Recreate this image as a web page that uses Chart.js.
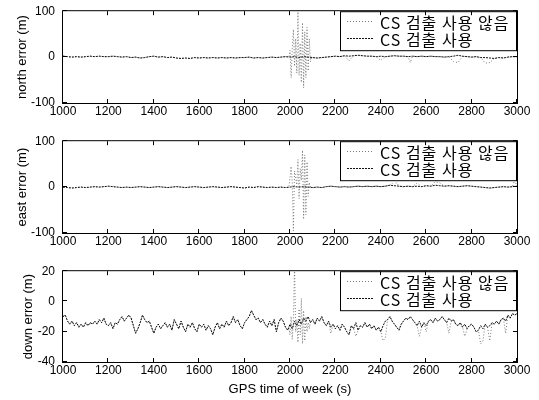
<!DOCTYPE html>
<html>
<head>
<meta charset="utf-8">
<script src="https://cdn.jsdelivr.net/npm/chart.js@4/dist/chart.umd.min.js"></script>
<style>
  html, body { margin: 0; padding: 0; background: #fff; width: 539px; height: 400px; overflow: hidden; }
  canvas { position: absolute; left: 0; }
</style>
</head>
<body>
<canvas id="cNorth" width="539" height="130" style="top:-4px"></canvas>
<canvas id="cEast" width="539" height="130" style="top:126px"></canvas>
<canvas id="cDown" width="539" height="144" style="top:256px"></canvas>
<script>
// ---- time axis ----
const T_START = 1000;
const T_END = 3000;
const X_TICK_STEP = 200;
const NE_STEP = 20;   // north / east sampling interval (s)
const D_STEP = 10;    // down sampling interval (s)

// ---- position error with cycle-slip detection (m) ----
const northUsed = [
  2, 1, 0, 1, 0, 1, 2, 1, 2, 1,
  1, 2, 1, 0, 1, -1, 0, -2, -1, 1,
  2, 0, 1, -1, 0, -2, -3, -2, -3, -1,
  -2, -1, -2, -1, -2, -1, -2, -1, -2, -1,
  -1, 0, -2, -1, -2, -1, 0, -1, 0, 1,
  0, 1, -1, 1, 0, -1, -2, -1, 0, 1,
  2, 1, 3, 2, 3, 4, 3, 2, 2, 1,
  2, 1, 2, 3, 2, 2, 1, 2, 1, 2,
  1, 2, 1, 1, 0, 1, 2, 4, 2, 1,
  0, 1, -1, -1, -2, -3, -1, -2, 0, 1,
  1
];
const eastUsed = [
  0, -1, -2, -1, 0, -1, 0, 1, 0, 1,
  2, 1, 0, -1, 0, -1, 0, 1, 0, -1,
  0, 1, 0, -1, 0, 1, 0, -1, 0, 1,
  0, -1, 0, 1, 0, -1, 0, 1, 0, -1,
  -2, 0, -1, 1, 0, -1, 0, -1, 0, -1,
  0, 1, 0, 1, 0, -1, 0, -1, 1, 2,
  1, 0, 1, 0, 1, 2, 1, 2, 1, 2,
  1, 2, 4, 3, 2, 1, 2, 1, 2, 1,
  3, 2, 4, 3, 2, 3, 2, 1, 2, 3,
  2, 1, 0, -1, -2, -1, 0, 1, 0, 1,
  2
];
const downUsed = [
  -10, -9, -13, -15, -13, -16, -14, -17, -15, -17,
  -14, -16, -14, -15, -13, -15, -12, -14, -11, -15,
  -16, -14, -18, -14, -15, -12, -10, -13, -11, -9,
  -11, -16, -21, -18, -14, -9, -12, -14, -13, -17,
  -21, -17, -15, -18, -16, -14, -17, -15, -19, -12,
  -15, -18, -13, -17, -20, -15, -17, -14, -18, -20,
  -15, -17, -15, -19, -16, -18, -22, -17, -14, -18,
  -15, -17, -13, -16, -14, -10, -14, -12, -16, -18,
  -14, -12, -10, -6, -9, -12, -11, -14, -12, -15,
  -17, -13, -16, -12, -20, -14, -11, -13, -17, -19,
  -15, -18, -13, -16, -12, -15, -11, -13, -10, -14,
  -12, -15, -11, -13, -10, -14, -16, -13, -17, -15,
  -18, -16, -19, -15, -17, -20, -22, -16, -18, -14,
  -19, -16, -17, -14, -17, -15, -18, -16, -19, -17,
  -20, -16, -13, -12, -10, -13, -15, -17, -19, -15,
  -13, -11, -12, -10, -12, -14, -16, -13, -17, -14,
  -16, -13, -12, -14, -11, -13, -12, -10, -12, -14,
  -11, -13, -12, -15, -16, -14, -17, -15, -18, -16,
  -15, -17, -20, -19, -16, -18, -15, -17, -16, -14,
  -15, -13, -15, -12, -11, -13, -9, -11, -8, -9,
  -8
];

// ---- samples where the solution without detection differs: [time (s), error (m)] ----
const northNotUsedDiff = [
  [1995, 0], [2000, 15], [2005, -45], [2010, 20], [2015, 60], [2020, -20], [2025, 40],
  [2030, -35], [2035, 105], [2040, -40], [2045, 30], [2050, -55], [2055, 75], [2060, -67],
  [2065, 55], [2070, -45], [2075, 65], [2080, -30], [2085, 40], [2090, -10], [2095, 0],
  [2260, -8], [2400, -7], [2530, -12], [2720, -10], [2740, -12], [2860, -13], [2880, -12]
];
const eastNotUsedDiff = [
  [1995, 0], [2000, 20], [2005, 45], [2010, 10], [2015, -95], [2020, 35], [2025, 20],
  [2030, 5], [2035, 60], [2040, -25], [2045, 40], [2050, 15], [2055, 80], [2060, -70],
  [2065, 70], [2070, -60], [2075, 55], [2080, -20], [2085, 10], [2090, 0],
  [2450, 8], [2470, 10], [2560, 9], [2640, 12], [2660, 9], [2990, 15]
];
const downNotUsedDiff = [
  [1995, -17], [2000, -22], [2005, -10], [2010, -25], [2015, -12], [2020, 24], [2025, -20],
  [2030, -12], [2035, -27], [2040, -5], [2045, -22], [2050, 2], [2055, -28], [2060, -6],
  [2065, -26], [2070, -10], [2075, -20], [2080, -14], [2085, -18], [2090, -13],
  [2180, -21], [2290, -23], [2410, -26], [2420, -24], [2570, -23], [2600, -20],
  [2700, -21], [2770, -23], [2840, -28], [2850, -26], [2880, -26], [2950, -21]
];

// ---- text ----
const legendLabels = ['CS 검출 사용 않음', 'CS 검출 사용'];
const yTitles = ['north error (m)', 'east error (m)', 'down error (m)'];
const xTitle = 'GPS time of week (s)';
const yRanges = [[-100, 100, 100], [-100, 100, 100], [-40, 20, 20]];

// ---- helpers ----
const toPoints = (vals, step) => vals.map((v, i) => ({ x: T_START + i * step, y: v }));
function overlay(base, diffs) {
  const m = new Map(base.map(p => [p.x, p.y]));
  diffs.forEach(([t, v]) => m.set(t, v));
  return [...m.entries()].sort((a, b) => a[0] - b[0]).map(([x, y]) => ({ x, y }));
}

const TICK_FONT = { family: '"Liberation Sans", Arial, sans-serif', size: 12 };
const TITLE_FONT = { family: '"Liberation Sans", Arial, sans-serif', size: 13 };
const LEGEND_FONT = '16px "Noto Sans CJK KR", sans-serif';
const LEGEND_LEFT = 340;

// frame, inward tick marks and boxed legend
const axesBox = {
  id: 'axesBox',
  afterDatasetsDraw(chart) {
    const { ctx, chartArea: a, scales } = chart;
    ctx.save();
    // legend
    const bx = LEGEND_LEFT, by = a.top, bw = a.right - bx, bh = 40;
    ctx.fillStyle = '#fff';
    ctx.fillRect(bx, by, bw, bh);
    ctx.strokeStyle = '#000';
    ctx.lineWidth = 1;
    ctx.setLineDash([]);
    ctx.strokeRect(bx + 0.5, by + 0.5, bw - 1, bh - 1);
    chart.data.datasets.forEach((ds, i) => {
      const y = Math.round(by + 10 + i * 17) + 0.5;
      ctx.strokeStyle = ds.borderColor;
      ctx.setLineDash(ds.borderDash);
      ctx.beginPath();
      ctx.moveTo(bx + 7, y);
      ctx.lineTo(bx + 33, y);
      ctx.stroke();
      ctx.setLineDash([]);
      ctx.fillStyle = '#000';
      ctx.font = LEGEND_FONT;
      ctx.letterSpacing = '1px';
      ctx.textBaseline = 'middle';
      ctx.textAlign = 'left';
      ctx.fillText(ds.label, bx + 40, y + 1);
      ctx.letterSpacing = '0px';
    });
    // frame
    ctx.strokeStyle = '#000';
    ctx.lineWidth = 1;
    ctx.strokeRect(a.left - 0.5, a.top - 0.5, a.right - a.left + 1, a.bottom - a.top + 1);
    // inward ticks
    const L = 4;
    ctx.beginPath();
    scales.x.ticks.forEach(t => {
      const px = Math.round(scales.x.getPixelForValue(t.value)) - 0.5;
      ctx.moveTo(px, a.bottom); ctx.lineTo(px, a.bottom - L);
      ctx.moveTo(px, a.top); ctx.lineTo(px, a.top + L);
    });
    scales.y.ticks.forEach(t => {
      const py = Math.round(scales.y.getPixelForValue(t.value)) - 0.5;
      ctx.moveTo(a.left, py); ctx.lineTo(a.left + L, py);
      ctx.moveTo(a.right, py); ctx.lineTo(a.right - L, py);
    });
    ctx.stroke();
    ctx.restore();
  }
};

function makePanel(id, used, notUsed, idx, opts) {
  const [yMin, yMax, yStep] = yRanges[idx];
  new Chart(document.getElementById(id), {
    type: 'line',
    data: {
      datasets: [
        { label: legendLabels[0], data: notUsed, borderColor: '#7a7a7a', borderDash: [1, 2],
          borderWidth: 1, pointRadius: 0, order: 2, tension: 0 },
        { label: legendLabels[1], data: used, borderColor: '#111', borderDash: [2, 1],
          borderWidth: 1, pointRadius: 0, order: 1, tension: 0 }
      ]
    },
    options: {
      responsive: false,
      animation: false,
      devicePixelRatio: 1,
      layout: { padding: { left: 0, right: 22, top: 10, bottom: 0 } },
      plugins: { legend: { display: false }, tooltip: { enabled: false } },
      scales: {
        x: {
          type: 'linear', min: T_START, max: T_END,
          grid: { display: false, drawTicks: false }, border: { display: false },
          ticks: { stepSize: X_TICK_STEP, font: TICK_FONT, color: '#000', padding: 1,
                   maxRotation: 0, callback: v => String(v) },
          title: { display: !!opts.xTitle, text: xTitle, font: TITLE_FONT, color: '#000',
                   padding: { top: 0, bottom: 3 } },
          afterFit: s => { s.height = opts.xHeight; }
        },
        y: {
          type: 'linear', min: yMin, max: yMax,
          grid: { display: false, drawTicks: false }, border: { display: false },
          ticks: { stepSize: yStep, font: TICK_FONT, color: '#000', padding: 8,
                   callback: v => String(v) },
          title: { display: true, text: yTitles[idx], font: TITLE_FONT, color: '#000',
                   padding: { top: opts.yTitlePad, bottom: 0 } },
          afterFit: s => { s.width = 63; }
        }
      }
    },
    plugins: [axesBox]
  });
}

const northBase = toPoints(northUsed, NE_STEP);
const eastBase = toPoints(eastUsed, NE_STEP);
const downBase = toPoints(downUsed, D_STEP);

makePanel('cNorth', northBase, overlay(northBase, northNotUsedDiff), 0, { xHeight: 23, yTitlePad: 15 });
makePanel('cEast', eastBase, overlay(eastBase, eastNotUsedDiff), 1, { xHeight: 23, yTitlePad: 15 });
makePanel('cDown', downBase, overlay(downBase, downNotUsedDiff), 2, { xHeight: 38, yTitlePad: 21, xTitle: true });
</script>
</body>
</html>
